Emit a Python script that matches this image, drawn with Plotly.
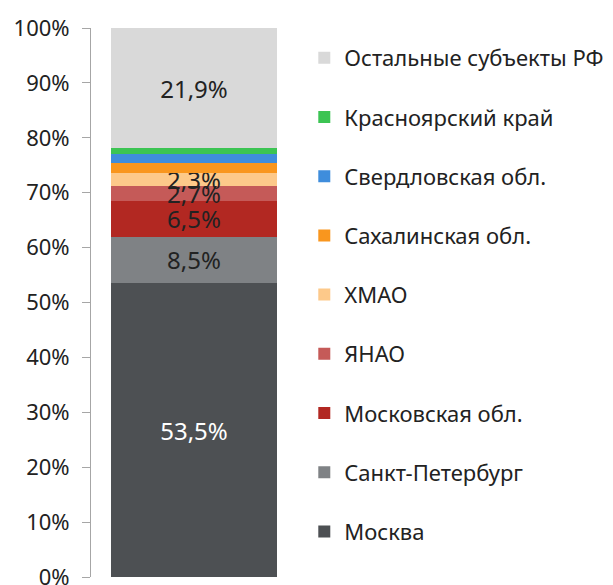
import plotly.graph_objects as go

categories = ["Всего"]
series_names = ["Москва", "Санкт-Петербург", "Московская обл.", "ЯНАО", "ХМАО",
                "Сахалинская обл.", "Свердловская обл.", "Красноярский край",
                "Остальные субъекты РФ"]
series_values = [53.5, 8.5, 6.5, 2.7, 2.3, 1.9, 1.6, 1.1, 21.9]
series_labels = ["53,5%", "8,5%", "6,5%", "2,7%", "2,3%", "", "", "", "21,9%"]
series_colors = ["#4d5053", "#7f8285", "#b22822", "#c55a58", "#fdc98a",
                 "#f9961e", "#3f8ddc", "#3cc453", "#d9d9d9"]
label_colors = ["#ffffff", "#222222", "#222222", "#222222", "#222222",
                "#222222", "#222222", "#222222", "#222222"]
tick_vals = [0, 10, 20, 30, 40, 50, 60, 70, 80, 90, 100]
tick_text = ["0%", "10%", "20%", "30%", "40%", "50%", "60%", "70%", "80%", "90%", "100%"]

FONT = "Noto Sans"

fig = go.Figure()
n = len(series_names)
for i, (name, val, lab, col, lc) in enumerate(zip(series_names, series_values,
                                                   series_labels, series_colors, label_colors)):
    fig.add_trace(go.Bar(
        x=categories, y=[val], name=name,
        marker=dict(color=col, line=dict(width=0)),
        text=[lab], textposition="inside", insidetextanchor="middle",
        textfont=dict(color=lc, size=24, family=FONT),
        legendgroup=str(i),
        legendrank=n - i,
    ))

fig.update_layout(
    barmode="stack",
    bargap=0.194,
    width=613, height=585,
    margin=dict(l=83, r=324, t=20, b=16, autoexpand=False),
    paper_bgcolor="white", plot_bgcolor="white",
    font=dict(family=FONT, size=22, color="#222222"),
    uniformtext=dict(minsize=24, mode="show"),
    showlegend=True,
    legend=dict(
        traceorder="grouped",
        tracegroupgap=27.6,
        x=1.0354, xanchor="left", y=0.9836, yanchor="top",
        font=dict(family=FONT, size=22, color="#222222"),
        itemwidth=30,
        bgcolor="rgba(0,0,0,0)",
    ),
    xaxis=dict(showticklabels=False, showline=False, ticks="", showgrid=False,
               zeroline=False),
    yaxis=dict(range=[0, 100], tickvals=tick_vals, ticktext=tick_text,
               showgrid=False, zeroline=False, showline=True, linecolor="#a6a6a6",
               linewidth=1, ticks="outside", ticklen=8, tickcolor="#a6a6a6",
               ticklabelstandoff=8,
               tickfont=dict(family=FONT, size=22, color="#222222")),
)

fig.write_html("out.html")
